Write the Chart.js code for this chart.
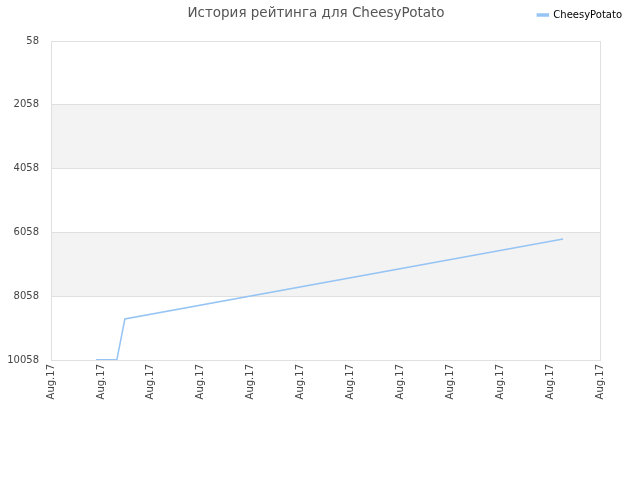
<!DOCTYPE html>
<html>
<head>
<meta charset="utf-8">
<script src="https://cdn.jsdelivr.net/npm/chart.js@4"></script>
<style>
  html, body { margin: 0; padding: 0; background: #fff; }
  canvas { display: block; }
</style>
</head>
<body>
<canvas id="c" width="640" height="480"></canvas>
<script>
const chartTitle = "История рейтинга для CheesyPotato";
const seriesName = "CheesyPotato";
const xTickValues = [0, 1, 2, 3, 4, 5, 6, 7, 8, 9, 10, 11];
const xTickLabels = ["Aug.17","Aug.17","Aug.17","Aug.17","Aug.17","Aug.17","Aug.17","Aug.17","Aug.17","Aug.17","Aug.17","Aug.17"];
const yTickValues = [58, 2058, 4058, 6058, 8058, 10058];
const pointX = [0.90, 1.32, 1.48, 10.26];
const pointY = [10050, 10050, 8773, 6265];

const lineColor = "rgb(150,196,244)";
const gridColor = "#e0e0e0";
const bandColor = "#f3f3f3";

const bandsPlugin = {
  id: "bands",
  beforeDraw(chart) {
    const { ctx, chartArea } = chart;
    const y = chart.scales.y;
    ctx.save();
    ctx.fillStyle = bandColor;
    for (let i = 1; i < yTickValues.length - 1; i += 2) {
      const a = y.getPixelForValue(yTickValues[i]);
      const b = y.getPixelForValue(yTickValues[i + 1]);
      ctx.fillRect(chartArea.left, Math.min(a, b), chartArea.right - chartArea.left, Math.abs(b - a));
    }
    ctx.restore();
  }
};

new Chart(document.getElementById("c"), {
  type: "line",
  data: {
    datasets: [{
      label: seriesName,
      data: pointX.map((x, i) => ({ x: x, y: pointY[i] })),
      borderColor: lineColor,
      backgroundColor: lineColor,
      borderWidth: 1.5,
      pointRadius: 0,
      tension: 0,
      fill: false
    }]
  },
  options: {
    responsive: false,
    animation: false,
    devicePixelRatio: 1,
    layout: { padding: { left: 0, top: 0, bottom: 0, right: 8 } },
    plugins: {
      title: {
        display: true,
        text: chartTitle,
        color: "#555",
        font: { family: "DejaVu Sans", size: 13.5, weight: "normal" },
        padding: { top: 5.5, bottom: -21.7 }
      },
      legend: {
        display: true,
        position: "top",
        align: "end",
        labels: {
          boxWidth: 11,
          boxHeight: 2,
          color: "#000",
          font: { family: "DejaVu Sans", size: 10 },
          padding: 10
        }
      },
      tooltip: { enabled: false }
    },
    scales: {
      x: {
        type: "linear",
        min: 0,
        max: 11,
        afterBuildTicks(s) { s.ticks = xTickValues.map(v => ({ value: v })); },
        afterFit(s) { s.height = 120; },
        ticks: {
          minRotation: 90,
          maxRotation: 90,
          autoSkip: false,
          color: "#444",
          font: { family: "DejaVu Sans", size: 10 },
          padding: 4,
          callback: (v, i) => xTickLabels[i]
        },
        grid: {
          drawTicks: false,
          color: (c) => (c.index === xTickValues.length - 1 ? gridColor : "rgba(0,0,0,0)")
        },
        border: { display: true, color: gridColor }
      },
      xTop: {
        type: "linear",
        position: "top",
        display: true,
        afterFit(s) { s.height = 11; },
        ticks: { display: false },
        grid: { display: false, drawTicks: false },
        border: { display: false }
      },
      y: {
        type: "linear",
        reverse: true,
        min: 58,
        max: 10058,
        afterBuildTicks(s) { s.ticks = yTickValues.map(v => ({ value: v })); },
        afterFit(s) { s.width = 51; },
        ticks: {
          color: "#444",
          font: { family: "DejaVu Sans", size: 10 },
          padding: 12,
          callback: (v) => String(v)
        },
        grid: { drawTicks: false, color: gridColor },
        border: { display: true, color: gridColor }
      },
      yRight: {
        type: "linear",
        position: "right",
        display: true,
        afterFit(s) { s.width = 32; },
        ticks: { display: false },
        grid: { display: false, drawTicks: false },
        border: { display: false }
      }
    }
  },
  plugins: [bandsPlugin]
});
</script>
</body>
</html>
